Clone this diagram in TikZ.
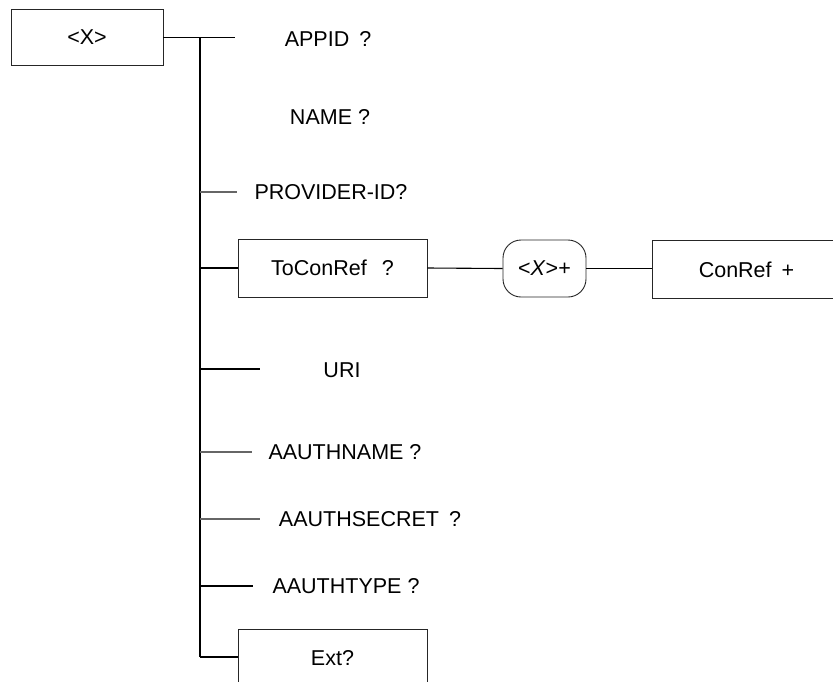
\documentclass[tikz,border=0pt]{standalone}
\usepackage{fontspec}
\setmainfont{Liberation Sans}
\begin{document}
\begin{tikzpicture}[x=1pt,y=-1pt,
  lbl/.style={inner sep=0pt,anchor=center,font=\fontsize{21.5}{25}\selectfont},
  elbox/.style={draw=black!85,line width=0.9pt,minimum width=189pt,minimum height=58pt,inner sep=0pt,font=\fontsize{21.5}{25}\selectfont},
  conn/.style={draw=black,line width=1.1pt},
  connlight/.style={draw=black!60,line width=1.1pt}]
\useasboundingbox[fill=white] (0,0) rectangle (833,681);
\clip (0,0) rectangle (833,681);
% boxes
\node[elbox,minimum width=152pt,minimum height=56pt] (root) at (87,37) {<X>};
\node[elbox] (toconref) at (332.5,268) {ToConRef\hspace{15pt}?};
\node[elbox,minimum width=83pt,minimum height=57pt,rounded corners=18pt] (xplus) at (544.5,268.5) {<\textit{X}>+};
\node[elbox] (conref) at (746.5,269.5) {ConRef\hspace{10pt}+};
\node[elbox] (ext) at (332.5,658) {Ext?};
% labels
\node[lbl] (appid) at (328,39) {APPID\hspace{10pt}?};
\node[lbl] (name) at (330,117) {NAME ?};
\node[lbl] (provider) at (331,192) {PROVIDER-ID?};
\node[lbl] (uri) at (342,370) {URI};
\node[lbl] (aname) at (345,452) {AAUTHNAME ?};
\node[lbl] (asecret) at (370,519) {AAUTHSECRET\hspace{10pt}?};
\node[lbl] (atype) at (346,586) {AAUTHTYPE ?};
% trunk coordinates
\coordinate (t0) at (200,37.5);
\coordinate (tend) at (200,657);
\coordinate (eappid) at (235,37.5);
\coordinate (tprov) at (200,192);
\coordinate (eprov) at (237,192);
\coordinate (turi) at (200,369);
\coordinate (euri) at (260,369);
\coordinate (taname) at (200,452);
\coordinate (eaname) at (252,452);
\coordinate (tasecret) at (200,519);
\coordinate (easecret) at (260,519);
\coordinate (tatype) at (200,586);
\coordinate (eatype) at (253,586);
% connectors
\draw[conn] (root.east |- t0) -- (t0) -- (eappid);
\draw[conn] (t0) -- (tend);
\draw[connlight] (tprov) -- (eprov);
\draw[conn] (toconref.west -| t0) -- (toconref.west);
\draw[conn] (turi) -- (euri);
\draw[connlight] (taname) -- (eaname);
\draw[connlight] (tasecret) -- (easecret);
\draw[conn] (tatype) -- (eatype);
\draw[conn] (tend) -- (ext.west |- tend);
\draw[conn] (toconref.east) -- (xplus.west);
\draw[conn] (xplus.east) -- (conref.west |- xplus.east);
\end{tikzpicture}
\end{document}
